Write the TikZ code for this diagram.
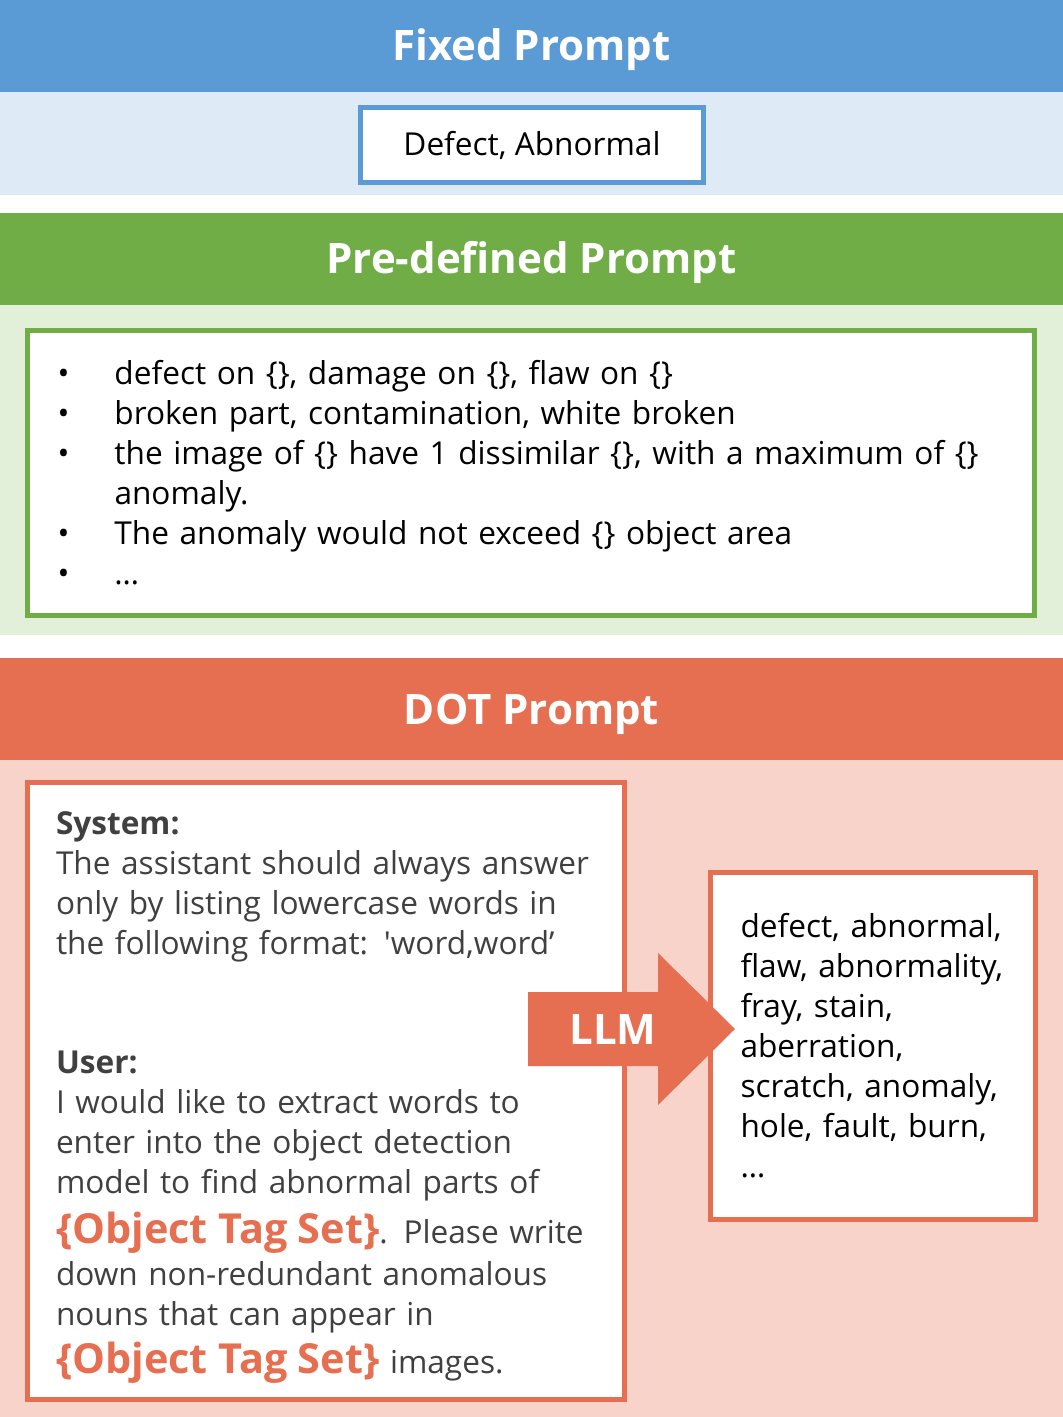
\documentclass[tikz,border=0pt]{standalone}
\usepackage{fontspec}
\setmainfont{Open Sans}
\newfontfamily\rawfont{Open Sans}
\usetikzlibrary{positioning}

\definecolor{blueHead}{HTML}{5B9BD5}
\definecolor{blueBand}{HTML}{DEEBF7}
\definecolor{greenHead}{HTML}{70AD47}
\definecolor{greenBand}{HTML}{E2F0D9}
\definecolor{dotHead}{HTML}{E76F51}
\definecolor{dotBand}{HTML}{F8D3C9}
\definecolor{grayText}{HTML}{404040}

\tikzset{
  band/.style={inner sep=0pt, outer sep=0pt, minimum width=531.5pt},
  headband/.style={band, text=white, text height=15pt, text depth=0pt,
                   font=\fontsize{21}{24}\selectfont\bfseries},
  promptbox/.style={draw, line width=2.5pt, fill=white, inner sep=0pt, outer sep=0pt},
  bodytext/.style={font=\fontsize{15.8}{20}\selectfont},
}
\newcommand{\tagset}{{\fontsize{20.7}{24}\selectfont\bfseries\color{dotHead}\{Object Tag Set\}}}
\newcommand{\itm}{\makebox[28.5pt][l]{\textbullet}}

\begin{document}
\begin{tikzpicture}[x=0.5pt, y=-0.5pt]

  % Rahmen des Bildes
  \useasboundingbox (0,0) rectangle (1063,1417);

  % ===== Fixed Prompt =====
  \node[headband, fill=blueHead, minimum height=46pt] (fixedHead) at (531.5,46) {Fixed Prompt};
  \node[band, fill=blueBand, minimum height=51.5pt, below=0pt of fixedHead] (fixedBand) {};
  \node[promptbox, draw=blueHead, minimum width=171.5pt, minimum height=37.5pt, bodytext]
    (fixedBox) at (532,145) {Defect, Abnormal};

  % ===== Pre-defined Prompt =====
  \node[headband, fill=greenHead, minimum height=46pt] (preHead) at (531.5,259) {Pre-defined Prompt};
  \node[band, fill=greenBand, minimum height=165pt, below=0pt of preHead] (preBand) {};
  \node[promptbox, draw=greenHead, minimum width=503.5pt, minimum height=142.5pt,
        text width=473.5pt, inner xsep=15pt, align=left, bodytext]
    (preBox) at (531,473)
    {\itm defect on \{\}, damage on \{\}, flaw on \{\}\\
     \itm broken part, contamination, white broken\\
     \itm the image of \{\} have 1 dissimilar \{\}, with a maximum of \{\}\\
     \hspace*{28.5pt}anomaly.\\
     \itm The anomaly would not exceed \{\} object area\\
     \itm \dots};

  % ===== DOT Prompt =====
  \node[headband, fill=dotHead, minimum height=51pt] (dotHeadBar) at (531.5,709) {DOT Prompt};
  \node[band, fill=dotBand, minimum height=328.5pt, below=0pt of dotHeadBar] (dotBandBg) {};

  % System / User Box
  \node[promptbox, draw=dotHead, minimum width=298.5pt, minimum height=308.5pt,
        text width=270pt, inner xsep=14.25pt, align=left, bodytext, text=grayText]
    (sysBox) at (326,1091)
    {\rule{0pt}{17.5pt}\textbf{System:}\\
     The assistant should always answer\\
     only by listing lowercase words in\\
     the following format: {\rawfont'}word,word'\\[39.5pt]
     \textbf{User:}\\
     I would like to extract words to\\
     enter into the object detection\\
     model to find abnormal parts of\\[5pt]
     \tagset. Please write\\[1pt]
     down non-redundant anomalous\\
     nouns that can appear in\\[4pt]
     \tagset{} images.};

  % Ausgabe-Box
  \node[promptbox, draw=dotHead, minimum width=162.5pt, minimum height=173.5pt,
        text width=132.5pt, inner xsep=15pt, align=left, bodytext]
    (outBox) at (873,1046)
    {defect, abnormal,\\
     flaw, abnormality,\\
     fray, stain,\\
     aberration,\\
     scratch, anomaly,\\
     hole, fault, burn,\\
     \dots};

  % LLM-Pfeil
  \fill[dotHead] (528,992) -- (658,992) -- (658,953) -- (735,1029)
    -- (658,1105) -- (658,1066) -- (528,1066) -- cycle;
  \node[text=white, font=\fontsize{21}{24}\selectfont\bfseries] (llm) at (613,1029) {LLM};

\end{tikzpicture}
\end{document}
